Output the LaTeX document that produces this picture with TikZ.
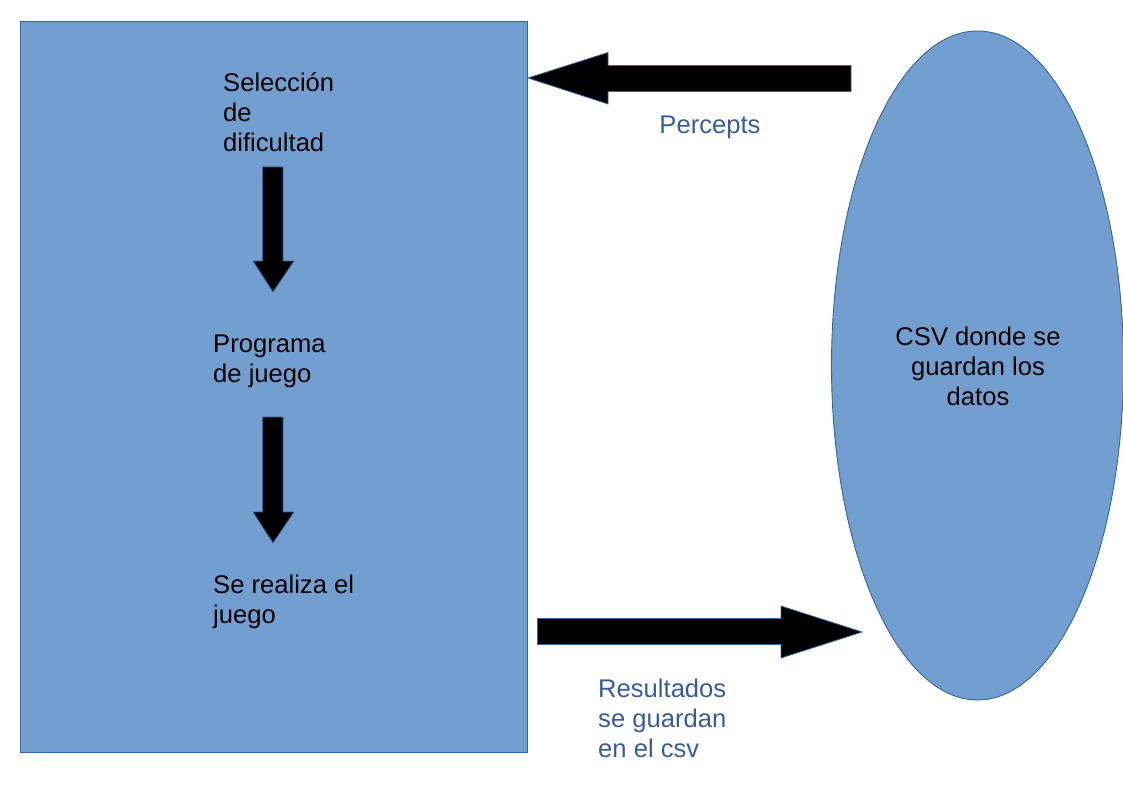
\documentclass[tikz,border=0pt]{standalone}
\usepackage{fontspec}
\setmainfont{Liberation Sans}
\usetikzlibrary{shapes.geometric}
\definecolor{fillblue}{HTML}{729FCF}
\definecolor{lineblue}{HTML}{3465A4}
\definecolor{labelblue}{HTML}{3B5BA0}
\begin{document}
\begin{tikzpicture}[x=1pt,y=-1pt,
  blueshape/.style={fill=fillblue,draw=lineblue,line width=0.9pt},
  blockarrow/.style={fill=black,draw=lineblue,line width=0.8pt,line join=miter},
  txt/.style={font=\fontsize{25.6}{30}\selectfont,inner sep=0pt,align=left,text=black},
  lbl/.style={font=\fontsize{25.6}{30}\selectfont,inner sep=0pt,align=left,text=labelblue}]
\useasboundingbox (0,0) rectangle (1123,794);
\node[blueshape,rectangle,minimum width=507,minimum height=731,inner sep=0pt] (box) at (273.5,386.5) {};
\node[blueshape,ellipse,minimum width=292,minimum height=669,inner sep=0pt] (csv) at (977.5,365.5) {};
\node[txt,align=center] (csvt) at (978,366) {CSV donde se\\guardan los\\datos};
\node[txt,anchor=west] (sel) at (223,112) {Selección\\de\\dificultad};
\node[txt,anchor=west] (prog) at (213,361.5) {Programa\\de juego};
\node[txt,anchor=west] (real) at (213,601.5) {Se realiza el\\juego};
\node[lbl,anchor=center] (perc) at (710,127.5) {Percepts};
\node[lbl,anchor=west] (res) at (598,718) {Resultados\\se guardan\\en el csv};
% top arrow (to the left)
\draw[blockarrow] (851,65.5) -- (608,65.5) -- (608,52.5) -- (528,78) -- (608,104) -- (608,91.5) -- (851,91.5) -- cycle;
% bottom arrow (to the right)
\draw[blockarrow] (537.5,618.5) -- (781,618.5) -- (781,606) -- (862,632) -- (781,658) -- (781,644.5) -- (537.5,644.5) -- cycle;
% vertical arrows
\draw[blockarrow] (262.5,167) -- (283,167) -- (283,261) -- (294,261) -- (273,292) -- (253,261) -- (262.5,261) -- cycle;
\draw[blockarrow] (262.5,417) -- (283,417) -- (283,512) -- (294,512) -- (273,543) -- (253,512) -- (262.5,512) -- cycle;
\end{tikzpicture}
\end{document}
